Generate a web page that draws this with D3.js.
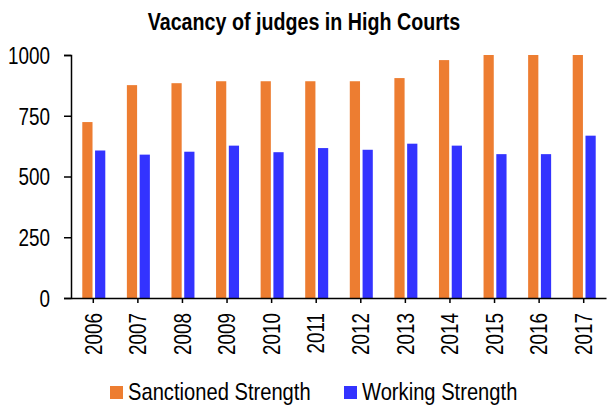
<!DOCTYPE html>
<html>
<head>
<meta charset="utf-8">
<script src="https://cdn.jsdelivr.net/npm/d3@7"></script>
<style>
  body { margin: 0; background: #fff; }
  text { font-family: "Liberation Sans Narrow", "Arial Narrow", "Liberation Sans", Arial, sans-serif; fill: #000; }
</style>
</head>
<body>
<script>
// chart data
var years = ["2006", "2007", "2008", "2009", "2010", "2011", "2012", "2013", "2014", "2015", "2016", "2017"];
var sanctioned = [724, 876, 884, 892, 892, 892, 892, 905, 979, 1000, 1000, 1000];
var working = [607, 590, 602, 627, 600, 617, 610, 635, 627, 592, 592, 668];
var seriesNames = ["Sanctioned Strength", "Working Strength"];
var yTicks = [0, 250, 500, 750, 1000];

var colors = {"Sanctioned Strength": "#ed7d31", "Working Strength": "#3333ff"};

// no narrow font installed, so squeeze glyphs horizontally
var narrow = 0.82;

var W = 607, H = 405;
var margin = {top: 55, right: 1, bottom: 107, left: 71};
var width = W - margin.left - margin.right,
    height = H - margin.top - margin.bottom;

var svg = d3.select("body").append("svg")
    .attr("width", W)
    .attr("height", H);

// title
svg.append("text")
    .attr("transform", "translate(304,30) scale(" + narrow + ",1)")
    .attr("text-anchor", "middle")
    .style("font-size", "24px")
    .style("font-weight", "bold")
    .text("Vacancy of judges in High Courts");

var g = svg.append("g")
    .attr("transform", "translate(" + margin.left + "," + margin.top + ")");

var x0 = d3.scaleBand().domain(years).range([0, width]);
var bw = x0.bandwidth();
var x1 = d3.scaleBand().domain(seriesNames)
    .range([bw / 2 - 11, bw / 2 + 12])
    .paddingInner(0.2);
var y = d3.scaleLinear().domain([0, 1000]).range([height, 0]);

var rows = years.map(function(yr, i) {
  return {year: yr, values: [
    {key: seriesNames[0], value: sanctioned[i]},
    {key: seriesNames[1], value: working[i]}
  ]};
});

g.selectAll("g.year")
    .data(rows)
  .enter().append("g")
    .attr("class", "year")
    .attr("transform", function(d) { return "translate(" + x0(d.year) + ",0)"; })
  .selectAll("rect")
    .data(function(d) { return d.values; })
  .enter().append("rect")
    .attr("x", function(d) { return x1(d.key); })
    .attr("width", x1.bandwidth())
    .attr("y", function(d) { return y(d.value); })
    .attr("height", function(d) { return height - y(d.value); })
    .attr("fill", function(d) { return colors[d.key]; });

// y axis
var yAxis = g.append("g")
    .call(d3.axisLeft(y).tickValues(yTicks).tickFormat(d3.format("d")).tickSize(7));
yAxis.select(".domain").attr("stroke", "#000").attr("stroke-width", 1.5);
yAxis.selectAll(".tick line").attr("stroke", "#000").attr("stroke-width", 1.5);
yAxis.selectAll("text")
    .style("font-size", "23px")
    .attr("x", 0)
    .attr("dy", "0.36em")
    .attr("transform", "translate(-21,0) scale(" + narrow + ",1)");

// x axis
var xAxis = g.append("g")
    .attr("transform", "translate(0," + height + ")")
    .call(d3.axisBottom(x0).tickSize(5).tickSizeOuter(0));
xAxis.select(".domain").attr("stroke", "#000").attr("stroke-width", 1.5);
xAxis.selectAll(".tick line").attr("stroke", "#000").attr("stroke-width", 1.5);
xAxis.selectAll("text")
    .style("font-size", "23px")
    .attr("text-anchor", "end")
    .attr("x", 0)
    .attr("y", 0)
    .attr("dy", "0.36em")
    .attr("transform", "translate(0,15) rotate(-90) scale(" + narrow + ",1)");

// legend
var legendX = [110, 344];
var legend = svg.selectAll("g.legend")
    .data(seriesNames)
  .enter().append("g")
    .attr("class", "legend")
    .attr("transform", function(d, i) { return "translate(" + legendX[i] + ",386)"; });
legend.append("rect")
    .attr("width", 13)
    .attr("height", 13)
    .attr("fill", function(d) { return colors[d]; });
legend.append("text")
    .attr("transform", "translate(18,14) scale(0.84,1)")
    .style("font-size", "24px")
    .text(function(d) { return d; });
</script>
</body>
</html>
